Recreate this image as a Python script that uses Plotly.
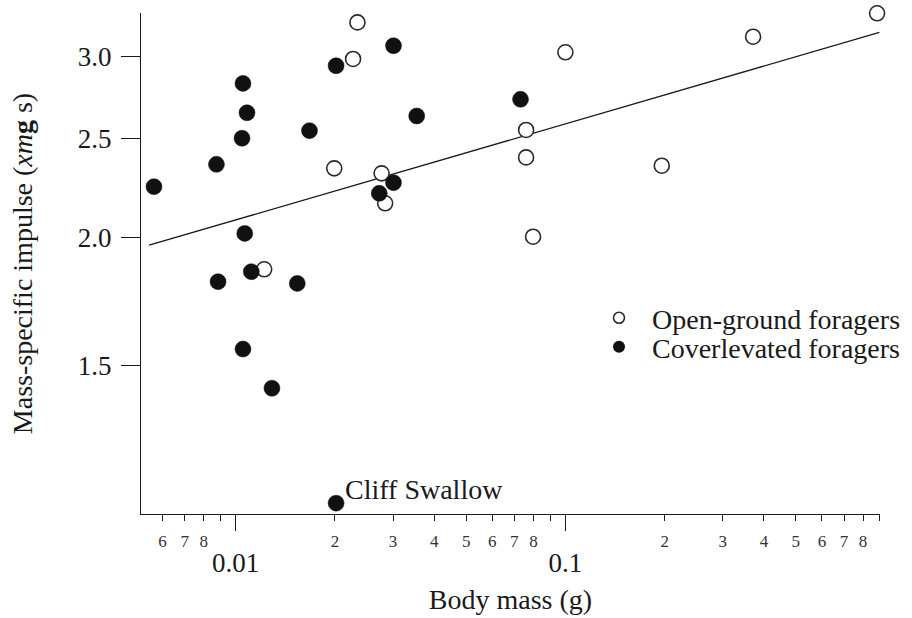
import numpy as np
import plotly.graph_objects as go

# Open-ground foragers: body mass (g) and mass-specific impulse
open_mass = [0.0234, 0.0227, 0.0199, 0.0277, 0.0284, 0.0122, 0.100,
             0.0760, 0.0760, 0.0798, 0.196, 0.371, 0.882]
open_impulse = [3.24, 2.985, 2.336, 2.31, 2.16, 1.863, 3.03,
                2.546, 2.394, 2.004, 2.35, 3.138, 3.307]

# Coverlevated foragers (last entry is the Cliff Swallow)
cover_mass = [0.00565, 0.00874, 0.01052, 0.01082, 0.01045, 0.01065, 0.01115,
              0.00884, 0.01537, 0.01674, 0.02016, 0.0301, 0.0354, 0.02725,
              0.0301, 0.0731, 0.01052, 0.01288, 0.02016]
cover_impulse = [2.242, 2.357, 2.826, 2.646, 2.499, 2.019, 1.853,
                 1.812, 1.805, 2.542, 2.940, 3.075, 2.627, 2.209,
                 2.262, 2.727, 1.558, 1.427, 1.103]
swallow_label = "Cliff Swallow"

# Power-law fit: impulse = fit_coef * mass ** fit_exp
fit_coef = 3.201
fit_exp = 0.0935
fit_mass_range = [0.00546, 0.896]

# Axis ticks
y_tickvals = [1.5, 2.0, 2.5, 3.0]
y_ticktext = ["1.5", "2.0", "2.5", "3.0"]
x_major_vals = [0.01, 0.1]
x_major_text = ["0.01", "0.1"]
x_minor_vals = [0.006, 0.007, 0.008, 0.009,
                0.02, 0.03, 0.04, 0.05, 0.06, 0.07, 0.08, 0.09,
                0.2, 0.3, 0.4, 0.5, 0.6, 0.7, 0.8, 0.9]
x_minor_text = ["6", "7", "8", "",
                "2", "3", "4", "5", "6", "7", "8", "",
                "2", "3", "4", "5", "6", "7", "8", ""]

FONT = "Liberation Serif, Times New Roman, serif"
INK = "#1a1a1a"
X_RANGE = [-2.2873, -0.0457]
Y_RANGE = [0.0320, 0.5197]

fit_x = np.array(fit_mass_range)
fit_y = fit_coef * fit_x ** fit_exp

fig = go.Figure()

fig.add_trace(go.Scatter(
    x=fit_x, y=fit_y, mode="lines",
    line=dict(color=INK, width=1.3),
    showlegend=False, hoverinfo="skip", cliponaxis=False,
))

fig.add_trace(go.Scatter(
    x=open_mass, y=open_impulse, mode="markers",
    marker=dict(size=15, color="white", line=dict(color="#2a2a2a", width=1.6)),
    showlegend=False, cliponaxis=False,
))

fig.add_trace(go.Scatter(
    x=cover_mass, y=cover_impulse, mode="markers",
    marker=dict(size=16, color="#111111", line=dict(color="#111111", width=0.5)),
    showlegend=False, cliponaxis=False,
))

# Legend entries, one per legend box so the rows sit tight together
fig.add_trace(go.Scatter(
    x=[None], y=[None], mode="markers", name="Open-ground foragers",
    marker=dict(size=11, color="white", line=dict(color="#2a2a2a", width=1.6)),
    legend="legend",
))
fig.add_trace(go.Scatter(
    x=[None], y=[None], mode="markers", name="Coverlevated foragers",
    marker=dict(size=12, color="#111111"),
    legend="legend2",
))

# Minor-tick labels on an overlaid log axis
fig.add_trace(go.Scatter(
    x=[None], y=[None], xaxis="x2", showlegend=False, hoverinfo="skip",
))

fig.add_annotation(
    x=np.log10(cover_mass[-1]), y=np.log10(cover_impulse[-1]),
    text=swallow_label, showarrow=False,
    xanchor="left", yanchor="middle", xshift=7, yshift=14,
    font=dict(family=FONT, size=28, color=INK),
)

legend_style = dict(
    xanchor="left", yanchor="middle",
    font=dict(family=FONT, size=28, color=INK),
    bgcolor="rgba(0,0,0,0)", itemwidth=56,
)

fig.update_layout(
    width=912, height=618,
    margin=dict(l=141, r=32, t=13, b=104, autoexpand=False),
    paper_bgcolor="white", plot_bgcolor="white",
    font=dict(family=FONT, color=INK),
    xaxis=dict(
        type="log", range=X_RANGE,
        tickmode="array", tickvals=x_major_vals, ticktext=x_major_text,
        ticks="outside", ticklen=16, tickwidth=1.2, tickcolor=INK,
        tickfont=dict(family=FONT, size=27, color=INK),
        ticklabelstandoff=8,
        showline=True, linecolor=INK, linewidth=1.3,
        showgrid=False, zeroline=False,
        title=dict(text="Body mass (g)", font=dict(family=FONT, size=28, color=INK), standoff=12),
    ),
    xaxis2=dict(
        type="log", range=X_RANGE, overlaying="x", side="bottom",
        tickmode="array", tickvals=x_minor_vals, ticktext=x_minor_text,
        ticks="outside", ticklen=6, tickwidth=1.0, tickcolor=INK,
        tickfont=dict(family=FONT, size=17, color="#333333"),
        ticklabelstandoff=6,
        showline=False, showgrid=False, zeroline=False,
    ),
    yaxis=dict(
        type="log", range=Y_RANGE,
        tickmode="array", tickvals=y_tickvals, ticktext=y_ticktext,
        ticks="outside", ticklen=19, tickwidth=1.2, tickcolor=INK,
        tickfont=dict(family=FONT, size=27, color=INK),
        ticklabelstandoff=4,
        showline=True, linecolor=INK, linewidth=1.3,
        showgrid=False, zeroline=False,
        title=dict(text="Mass-specific impulse (<i>xm</i><b>g</b> s)",
                   font=dict(family=FONT, size=28, color=INK), standoff=36),
    ),
    legend=dict(x=(586 - 141) / 739, y=(514 - 318) / 501, **legend_style),
    legend2=dict(x=(586 - 141) / 739, y=(514 - 347) / 501, **legend_style),
)

fig.write_html("out.html")
